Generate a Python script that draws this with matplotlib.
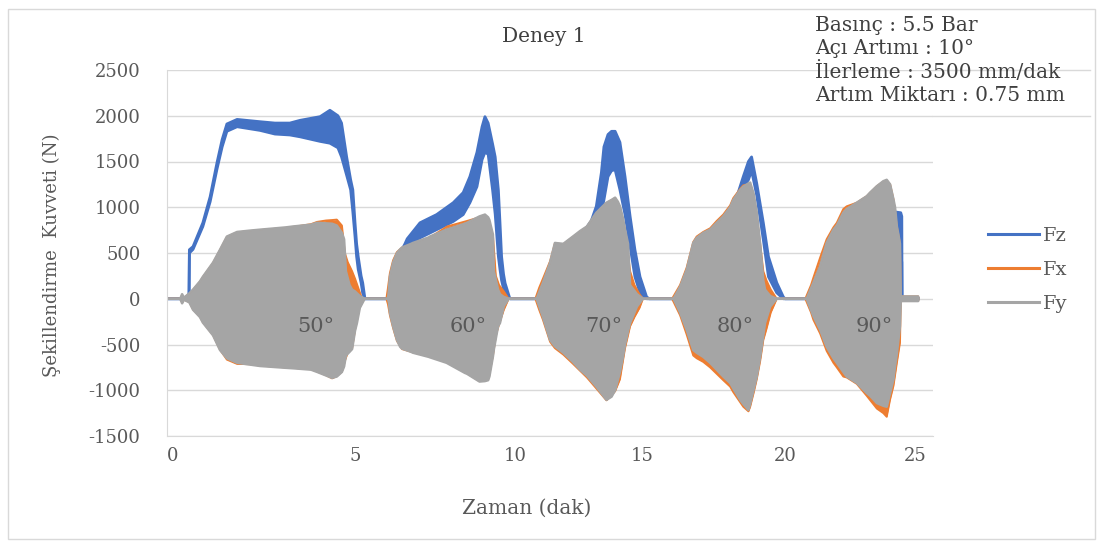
import matplotlib
matplotlib.use("Agg")
import matplotlib.pyplot as plt
import numpy as np
from matplotlib.lines import Line2D
from matplotlib.patches import Rectangle

plt.rcParams["font.family"] = ["DejaVu Serif"]
plt.rcParams["axes.unicode_minus"] = False

# Dense oscillating signals, kept as upper / lower envelopes
# Fz (N)
fz_t = [-0.17, 0.44, 0.45, 0.55, 0.82, 1.02, 1.21, 1.35, 1.48, 1.76, 2.39, 2.80, 3.21, 3.49, 4.04, 4.31, 4.53,
        4.63, 4.77, 4.88, 4.94, 5.00, 5.05, 5.10, 5.19, 5.24, 5.31,
        6.05, 6.50, 6.56, 6.63, 7.03, 7.55, 8.07, 8.38, 8.59, 8.81, 8.97, 9.06, 9.16, 9.30, 9.38, 9.48, 9.53,
        9.58, 9.64, 9.69, 9.84,
        10.85, 13.00, 13.20, 13.40, 13.50, 13.66, 13.80, 13.94, 14.13, 14.33, 14.53, 14.72, 14.92, 15.16, 15.25,
        16.10, 18.30, 18.54, 18.72, 18.83, 19.01, 19.24, 19.42, 19.71, 19.94, 20.00,
        20.83, 24.20, 24.45, 24.49, 24.50, 25.12]
fz_hi = [0, 0, 536, 570, 830, 1115, 1490, 1740, 1910, 1960, 1935, 1920, 1920, 1950, 1990, 2060, 2000,
         1920, 1550, 1300, 1190, 830, 600, 460, 250, 175, 0,
         0, 560, 600, 655, 830, 920, 1050, 1160, 1335, 1600, 1880, 1990, 1920, 1690, 1550, 1185, 830,
         460, 270, 170, 0,
         0, 850, 1010, 1380, 1660, 1795, 1830, 1830, 1710, 1335, 900, 535, 240, 20, 0,
         0, 1100, 1335, 1500, 1550, 1260, 830, 460, 175, 20, 0,
         0, 950, 940, 900, 0, 0]
fz_lo = [0, 0, 500, 540, 790, 1060, 1420, 1660, 1830, 1880, 1840, 1800, 1790, 1770, 1720, 1700, 1650,
         1550, 1350, 1190, 950, 680, 460, 320, 175, 60, 0,
         0, 520, 560, 580, 665, 755, 845, 920, 1050, 1225, 1520, 1600, 1580, 1185, 925, 460, 320,
         200, 110, 50, 0,
         0, 800, 900, 950, 1080, 1335, 1400, 1410, 1190, 920, 570, 240, 65, 0, 0,
         0, 1050, 1225, 1300, 1400, 1130, 645, 240, 65, 0, 0,
         0, 500, 460, 400, 0, 0]

# Fx (N)
fx_t = [-0.17, 0.20, 0.25, 0.30, 0.45, 0.55, 0.74, 0.82, 1.10, 1.29, 1.48, 1.76, 2.12, 2.39, 3.10, 3.30, 3.79,
        3.96, 4.20, 4.37, 4.50, 4.64, 4.72, 4.80, 4.92, 5.00, 5.10, 5.22,
        5.98, 6.03, 6.09, 6.19, 6.31, 6.47, 6.81, 7.34, 7.88, 8.50, 8.89, 9.06, 9.16, 9.31, 9.40, 9.50, 9.65, 9.80,
        10.80, 10.95, 11.10, 11.38, 11.57, 11.90, 12.28, 12.83, 13.20, 13.60, 13.94, 14.13, 14.33, 14.53, 14.70,
        14.90, 15.03,
        16.05, 16.33, 16.56, 16.79, 16.91, 17.14, 17.38, 17.61, 17.84, 18.08, 18.19, 18.43, 18.54, 18.72, 18.78,
        18.90, 19.01, 19.13, 19.24, 19.35, 19.50, 19.71,
        20.78, 21.00, 21.09, 21.35, 21.60, 21.86, 21.99, 22.24, 22.37, 22.76, 23.14, 23.53, 23.78, 23.91, 24.04,
        24.17, 24.30, 24.42, 24.45, 24.49, 25.12, 25.13]
fx_hi = [0, 0, 40, 10, 55, 95, 185, 235, 390, 530, 675, 725, 740, 750, 775, 785, 815,
         840, 855, 860, 865, 800, 500, 400, 300, 220, 120, 0,
         0, 120, 280, 420, 510, 560, 600, 670, 790, 850, 890, 900, 870, 690, 250, 150, 80, 0,
         0, 120, 220, 410, 605, 595, 675, 785, 935, 1045, 1100, 1000, 750, 300, 150, 50, 0,
         0, 150, 340, 620, 680, 730, 770, 850, 920, 1020, 1100, 1200, 1240, 1250, 1240,
         1100, 900, 600, 300, 200, 100, 0,
         0, 150, 230, 450, 650, 780, 830, 980, 1010, 1050, 1120, 1230, 1280, 1290, 1250,
         1085, 790, 600, 40, 25, 25, 0]
fx_lo = [0, 0, -40, -10, -35, -115, -195, -255, -395, -555, -665, -712, -715, -730, -750, -755, -770,
         -795, -835, -870, -845, -795, -680, -590, -540, -340, -140, 0,
         0, -60, -180, -320, -460, -550, -585, -630, -695, -815, -900, -895, -880, -620, -400, -280, -120, 0,
         0, -120, -230, -470, -540, -610, -710, -860, -980, -1110, -1010, -880, -540, -300, -200, -100, 0,
         0, -180, -390, -620, -650, -690, -750, -820, -890, -960, -1020, -1130, -1180, -1230, -1180,
         -1030, -880, -680, -450, -330, -150, 0,
         0, -150, -230, -380, -570, -700, -750, -850, -860, -930, -1060, -1200, -1250, -1290, -1100,
         -950, -700, -480, -40, -25, -25, 0]

# Fy (N)
fy_t = [-0.17, 0.20, 0.25, 0.30, 0.45, 0.55, 0.74, 0.82, 1.10, 1.29, 1.48, 1.76, 2.12, 2.39, 3.10, 3.30, 3.79,
        3.96, 4.37, 4.50, 4.64, 4.70, 4.75, 4.85, 4.92, 5.00, 5.06, 5.15, 5.30,
        6.03, 6.06, 6.09, 6.19, 6.31, 6.41, 6.47, 6.75, 6.81, 7.30, 7.34, 7.86, 8.43, 8.50, 8.89, 9.06, 9.16,
        9.20, 9.31, 9.34, 9.47, 9.53, 9.65, 9.80,
        10.85, 11.10, 11.38, 11.57, 11.90, 12.28, 12.56, 12.83, 13.20, 13.60, 13.80, 13.94, 14.05, 14.13, 14.25,
        14.33, 14.45, 14.53, 14.80, 15.03,
        16.10, 16.33, 16.56, 16.79, 16.91, 17.14, 17.38, 17.61, 17.84, 18.08, 18.19, 18.43, 18.54, 18.72, 18.78,
        18.90, 19.01, 19.13, 19.24, 19.30, 19.48, 19.71,
        20.83, 21.09, 21.35, 21.60, 21.86, 21.99, 22.24, 22.37, 22.76, 23.14, 23.27, 23.53, 23.78, 23.91, 24.04,
        24.17, 24.23, 24.30, 24.36, 24.42, 24.45, 24.49, 25.12, 25.13]
fy_hi = [0, 0, 50, 10, 60, 100, 190, 240, 395, 535, 680, 730, 745, 755, 780, 790, 810,
         830, 820, 800, 720, 650, 300, 150, 100, 80, 60, 30, 0,
         0, 100, 240, 395, 500, 540, 560, 600, 610, 670, 680, 755, 820, 830, 900, 920, 890,
         860, 700, 300, 100, 50, 20, 0,
         0, 175, 395, 610, 600, 680, 740, 790, 940, 1050, 1080, 1105, 1060, 1010, 880,
         755, 600, 150, 50, 0,
         0, 130, 315, 610, 665, 720, 755, 830, 900, 1000, 1080, 1190, 1225, 1260, 1270,
         1150, 950, 600, 200, 100, 30, 0,
         0, 175, 355, 610, 755, 800, 940, 980, 1050, 1120, 1160, 1230, 1285, 1300, 1250,
         1085, 1000, 790, 700, 600, 25, 25, 25, 0]
fy_lo = [0, 0, -50, -10, -40, -120, -200, -260, -400, -560, -650, -700, -720, -735, -755, -760, -775,
         -800, -865, -850, -800, -740, -620, -580, -550, -350, -265, -100, 0,
         0, -40, -150, -300, -450, -525, -545, -580, -590, -635, -640, -700, -810, -820, -905, -900, -890,
         -850, -630, -550, -300, -265, -80, 0,
         0, -200, -450, -520, -590, -690, -775, -840, -960, -1105, -1070, -1000, -885, -800, -635,
         -500, -350, -265, -85, 0,
         0, -150, -340, -560, -590, -635, -700, -775, -850, -920, -980, -1105, -1150, -1215, -1150,
         -995, -850, -635, -400, -265, -85, 0,
         0, -190, -340, -525, -650, -700, -800, -850, -920, -1030, -1060, -1140, -1170, -1180, -1030,
         -880, -740, -600, -450, -300, -25, -25, -25, 0]

angle_labels = ["50°", "60°", "70°", "80°", "90°"]
angle_label_t = [3.93, 8.53, 13.5, 18.25, 23.42]
info_lines = ["Basınç : 5.5 Bar", "Açı Artımı : 10°", "İlerleme : 3500 mm/dak", "Artım Miktarı : 0.75 mm"]
x_ticks = [0, 5, 10, 15, 20, 25]
y_ticks = [-1500, -1000, -500, 0, 500, 1000, 1500, 2000, 2500]

BLUE, ORANGE, GRAY = "#4472C4", "#ED7D31", "#A5A5A5"
TXT, DARK, GRID = "#595959", "#404040", "#D9D9D9"
W, H = 1105, 541

# the original time axis is not evenly spaced, so map it piecewise
scale_t = [-1, 0, 5, 10, 15, 20, 25, 27]
scale_px = [136.6, 173, 355, 515, 642, 785, 915, 967]
fwd = lambda t: np.interp(t, scale_t, scale_px)
inv = lambda p: np.interp(p, scale_px, scale_t)

fig = plt.figure(figsize=(W / 100, H / 100), dpi=100)
ax = fig.add_axes([167 / W, 105 / H, 766 / W, 366 / H])
ax.set_xscale("function", functions=(fwd, inv))
ax.set_xlim(-0.165, 25.69)
ax.set_ylim(-1500, 2500)

series = [(fz_t, fz_hi, fz_lo, BLUE, 2.0), (fx_t, fx_hi, fx_lo, ORANGE, 1.4), (fy_t, fy_hi, fy_lo, GRAY, 1.8)]
for i, (t, hi, lo, c, lw) in enumerate(series):
    z = 2 + i * 0.1
    ax.fill_between(t, lo, hi, color=c, lw=0, zorder=z)
    ax.plot(t, hi, color=c, lw=lw, zorder=z)
    ax.plot(t, lo, color=c, lw=lw, zorder=z)

for lab, t in zip(angle_labels, angle_label_t):
    ax.text(t, -306, lab, ha="center", va="center", color=TXT, fontsize=15, zorder=5)

ax.set_xticks(x_ticks)
ax.set_xticklabels([str(v) for v in x_ticks])
ax.set_yticks(y_ticks)
ax.set_yticklabels([str(v) for v in y_ticks])
ax.tick_params(axis="both", length=0, labelsize=13, colors=TXT)
ax.tick_params(axis="y", pad=19)
ax.tick_params(axis="x", pad=8)
ax.set_axisbelow(True)
ax.yaxis.grid(True, color=GRID, lw=1)
for s in ["top", "right"]:
    ax.spines[s].set_visible(False)
for s in ["left", "bottom"]:
    ax.spines[s].set_color(GRID)
for yv in [2500, 2000]:
    ax.axhline(yv, xmin=1, xmax=(1090 - 167) / 766, color=GRID, lw=1, clip_on=False)

fig.text(544 / W, 1 - 36 / H, "Deney 1", ha="center", va="center", color=DARK, fontsize=14.5)
for line, base in zip(info_lines, [31, 54, 78, 101]):
    fig.text(815 / W, 1 - base / H, line, ha="left", va="baseline", color=DARK, fontsize=14.5)
fig.text(52 / W, 1 - 255 / H, "Şekillendirme  Kuvveti (N)", rotation=90, ha="center", va="center",
         color=TXT, fontsize=13)
fig.text(527 / W, 1 - 508 / H, "Zaman (dak)", ha="center", va="center", color=TXT, fontsize=14.5)

handles = [Line2D([], [], color=c, lw=2.2) for c in (BLUE, ORANGE, GRAY)]
fig.legend(handles, ["Fz", "Fx", "Fy"], loc="upper left", bbox_to_anchor=(988 / W, 1 - 227 / H),
           frameon=False, fontsize=14, handlelength=2.6, handletextpad=0.25, labelspacing=0.82,
           borderpad=0, borderaxespad=0, labelcolor=TXT)

fig.patches.append(Rectangle((8 / W, 2 / H), (1095 - 8) / W, (539 - 9) / H, transform=fig.transFigure,
                             fill=False, edgecolor=GRID, lw=1))

fig.savefig("out.png", dpi=100)
